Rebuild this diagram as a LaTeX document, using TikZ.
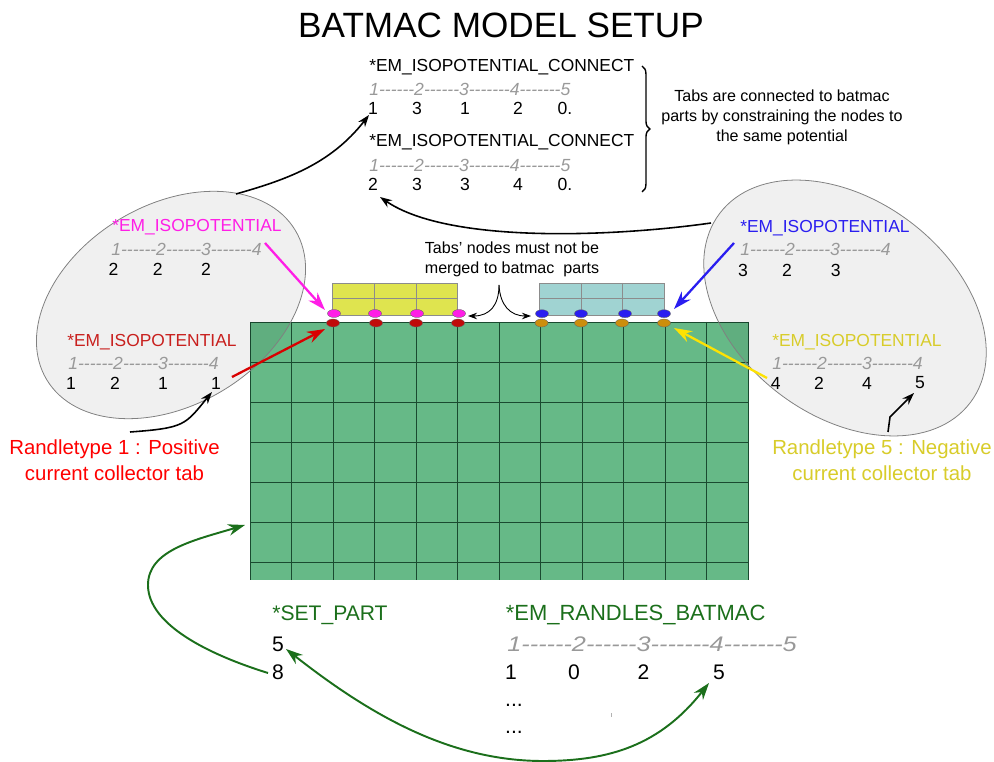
\documentclass[tikz,border=0pt]{standalone}
\usepackage{fontspec}
\setmainfont{Liberation Sans}
\newfontfamily\rulefont[Ligatures=NoCommon]{Liberation Sans}
\usetikzlibrary{arrows.meta,decorations.pathreplacing,shapes.geometric}

\definecolor{meshgreen}{HTML}{66B987}
\definecolor{meshline}{HTML}{1A4A30}
\definecolor{tabyellow}{HTML}{DFE44F}
\definecolor{tabblue}{HTML}{A0D3D2}
\definecolor{keymagenta}{HTML}{FF1EE6}
\definecolor{keyred}{HTML}{C8201E}
\definecolor{keyblue}{HTML}{2A1EF0}
\definecolor{keyyellow}{HTML}{D8CC2A}
\definecolor{keygreen}{HTML}{1B6F1B}
\definecolor{dotred}{HTML}{C00A0A}
\definecolor{dotorange}{HTML}{CC8E0C}

\tikzset{
    key/.style={anchor=west,inner sep=0pt,font=\fontsize{9.9}{12}\selectfont},
    ruler/.style={anchor=west,inner sep=0pt,text=gray!80,font=\fontsize{10}{12}\rulefont\itshape},
    val/.style={inner sep=0pt,font=\fontsize{10}{12}\selectfont},
    note/.style={align=center,inner sep=0pt,font=\fontsize{9.15}{11.4}\selectfont},
    randle/.style={align=center,inner sep=0pt,font=\fontsize{11.6}{14.8}\selectfont},
    bigkey/.style={anchor=west,inner sep=0pt,text=keygreen,font=\fontsize{12}{14}\selectfont},
    bigval/.style={inner sep=0pt,font=\fontsize{12}{14}\selectfont},
    dot/.style={ellipse,draw=black!60,line width=0.2pt,minimum width=2.6mm,minimum height=1.6mm,inner sep=0pt},
    blob/.style={draw=black!50,line width=0.45pt,fill=black,fill opacity=0.06},
    point/.style={-{Stealth[length=3.6mm,width=2.4mm]},line width=1.3pt},
    link/.style={-{Stealth[length=2.4mm,width=1.7mm]},line width=0.9pt},
    curl/.style={-{Stealth[length=3.4mm,width=2.3mm]},line width=1.1pt,keygreen}
}

\begin{document}
\begin{tikzpicture}[x=0.2mm,y=-0.2mm]
    \useasboundingbox (0,0) rectangle (994,762);

    % mesh of the batmac part
    \fill[meshgreen] (250,322) rectangle (748,580);
    \foreach \gx in {250,291.5,...,748} \draw[meshline,line width=0.55pt] (\gx,322) -- (\gx,580);
    \foreach \gy in {322,362.1,...,570} \draw[meshline,line width=0.55pt] (250,\gy) -- (748,\gy);

    % tabs
    \fill[tabyellow] (332.7,283) rectangle (457.7,315);
    \draw[black!45,line width=0.4pt] (332.7,283) rectangle (457.7,315);
    \draw[black!45,line width=0.4pt] (332.7,298) -- (457.7,298);
    \foreach \gx in {374.5,416} \draw[black!45,line width=0.4pt] (\gx,283) -- (\gx,315);
    \fill[tabblue] (539.7,283) rectangle (664,315);
    \draw[black!45,line width=0.4pt] (539.7,283) rectangle (664,315);
    \draw[black!45,line width=0.4pt] (539.7,298) -- (664,298);
    \foreach \gx in {581,622.7} \draw[black!45,line width=0.4pt] (\gx,283) -- (\gx,315);

    % grey ellipses
    \draw[blob] (171,305) [rotate around={31:(171,305)}] ellipse [x radius=145,y radius=100];
    \draw[blob] (845,308) [rotate around={-37:(845,308)}] ellipse [x radius=157,y radius=108];

    % nodes of the tabs and of the mesh
    \foreach \i/\gx in {1/334,2/375,3/417,4/459} \node[dot,fill=keymagenta] (mag\i) at (\gx,313.5) {};
    \foreach \i/\gx in {1/333,2/376,3/416,4/458} \node[dot,fill=dotred] (red\i) at (\gx,323) {};
    \foreach \i/\gx in {1/542,2/581,3/625,4/664} \node[dot,fill=keyblue] (blu\i) at (\gx,313.7) {};
    \foreach \i/\gx in {1/541.5,2/581,3/622,4/664} \node[dot,fill=dotorange] (ora\i) at (\gx,323) {};

    \node[inner sep=0pt,font=\fontsize{20}{24}\selectfont] (title) at (501,25) {BATMAC MODEL SETUP};

    % connect cards
    \node[key] (conA) at (369,67) {*EM\_ISOPOTENTIAL\_CONNECT};
    \node[ruler] (rulA) at (369,89) {1------2------3-------4-------5};
    \foreach \i/\gx/\v in {1/373/1,2/417/3,3/465/1,4/518/2,5/565/0.} \node[val] (a\i) at (\gx,108) {\v};
    \node[key] (conB) at (369,142) {*EM\_ISOPOTENTIAL\_CONNECT};
    \node[ruler] (rulB) at (369,165) {1------2------3-------4-------5};
    \foreach \i/\gx/\v in {1/373/2,2/417/3,3/465/3,4/518/4,5/565/0.} \node[val] (b\i) at (\gx,184) {\v};

    \coordinate (braceTop) at (642,66);
    \coordinate (braceEnd) at (642,192);
    \draw[decorate,decoration={brace,amplitude=4.5pt},line width=0.8pt] (braceTop) -- (braceEnd);
    \node[note] (tabsNote) at (782,117) {Tabs are connected to batmac\\parts by constraining the nodes to\\the same potential};
    \node[note] (mergeNote) at (512,259) {Tabs' nodes must not be\\merged to batmac~ parts};

    % left ellipse
    \node[key,text=keymagenta] (magKey) at (112,227) {*EM\_ISOPOTENTIAL};
    \node[ruler] (magRul) at (111,249) {1------2------3-------4};
    \foreach \i/\gx/\v in {1/113.5/2,2/157.7/2,3/206/2} \node[val] (m\i) at (\gx,269) {\v};
    \node[key,text=keyred] (redKey) at (67,342) {*EM\_ISOPOTENTIAL};
    \node[ruler] (redRul) at (68,363) {1------2------3-------4};
    \foreach \i/\gx/\v in {1/71/1,2/115/2,3/163/1,4/216/1} \node[val] (r\i) at (\gx,383) {\v};
    \node[randle,text=red] (posNote) at (114.5,460) {Randletype 1 : Positive\\current collector tab};

    % right ellipse
    \node[key,text=keyblue] (bluKey) at (740,228) {*EM\_ISOPOTENTIAL};
    \node[ruler] (bluRul) at (740,249.5) {1------2------3-------4};
    \foreach \i/\gx/\v in {1/743/3,2/787/2,3/835.7/3} \node[val] (u\i) at (\gx,270) {\v};
    \node[key,text=keyyellow] (yelKey) at (772,342) {*EM\_ISOPOTENTIAL};
    \node[ruler] (yelRul) at (772,363) {1------2------3-------4};
    \foreach \i/\gx/\v in {1/775.7/4,2/819/2,3/867/4,4/920/5} \node[val] (y\i) at (\gx,383) {\v};
    \node[randle,text=keyyellow] (negNote) at (882,460) {Randletype 5 : Negative\\current collector tab};

    % cards under the mesh
    \node[bigkey] (setKey) at (272,615) {*SET\_PART};
    \node[bigval] (setA) at (278,644) {5};
    \node[bigval] (setB) at (278,672) {8};
    \node[bigkey,font=\fontsize{12.5}{14}\selectfont] (ranKey) at (505.5,615) {*EM\_RANDLES\_BATMAC};
    \node[ruler,font=\fontsize{12}{14}\rulefont\itshape] (ranRul) at (507,644) {\scalebox{1.2}[1]{1------2------3-------4-------5}};
    \foreach \i/\gx/\v in {1/511/1,2/574/0,3/643.6/2,4/719/5} \node[bigval] (n\i) at (\gx,672) {\v};
    \node[bigval] (moreA) at (514,705) {...};
    \node[bigval] (moreB) at (514,732) {...};
    \draw[gray!60,line width=0.3pt] (611,713) -- (611,717);

    % ends of the connectors
    \coordinate (leftBlob) at (236,194);
    \coordinate (rightBlob) at (711,223);
    \coordinate (conTip) at (369,115);
    \coordinate (twoTip) at (380,197);
    \coordinate (splitTop) at (499,285);
    \coordinate (splitL) at (468,316);
    \coordinate (splitR) at (531,316);

    \draw[link] (leftBlob) .. controls (285,180) and (330,165) .. (conTip);
    \draw[link] (rightBlob) .. controls (620,236) and (450,245) .. (twoTip);
    \draw[-{Stealth[length=1.8mm,width=1.3mm]},line width=0.5pt] (splitTop) .. controls (499,305) and (490,316) .. (splitL);
    \draw[-{Stealth[length=1.8mm,width=1.3mm]},line width=0.5pt] (splitTop) .. controls (500,305) and (510,316) .. (splitR);

    % coloured pointers
    \coordinate (magEnd) at (265,243);
    \coordinate (magTip) at (325,310);
    \coordinate (redEnd) at (232,377);
    \coordinate (redTip) at (325,329);
    \coordinate (bluEnd) at (734,243);
    \coordinate (bluTip) at (674,309);
    \coordinate (yelEnd) at (767,378);
    \coordinate (yelTip) at (674,328);
    \draw[point,keymagenta] (magEnd) -- (magTip);
    \draw[point,red!85!black] (redEnd) -- (redTip);
    \draw[point,keyblue] (bluEnd) -- (bluTip);
    \draw[point,yellow!85!orange] (yelEnd) -- (yelTip);

    % randle type pointers
    \coordinate (posEnd) at (130,432);
    \coordinate (posTip) at (212,392);
    \coordinate (negEnd) at (888,432);
    \coordinate (negKnee) at (890,417);
    \coordinate (negTip) at (914,393);
    \draw[link] (posEnd) .. controls (185,428) and (185,425) .. (posTip);
    \draw[link] (negEnd) -- (negKnee) -- (negTip);

    % green loops
    \coordinate (meshTip) at (245,525);
    \coordinate (setTip) at (286,649);
    \coordinate (ranTip) at (709,683);
    \draw[curl] (268,673) .. controls (210,655) and (148,625) .. (148,585) .. controls (148,550) and (195,540) .. (meshTip);
    \draw[curl] (543,761) .. controls (450,761) and (370,715) .. (setTip);
    \draw[curl] (543,761) .. controls (610,761) and (660,745) .. (ranTip);
\end{tikzpicture}
\end{document}
